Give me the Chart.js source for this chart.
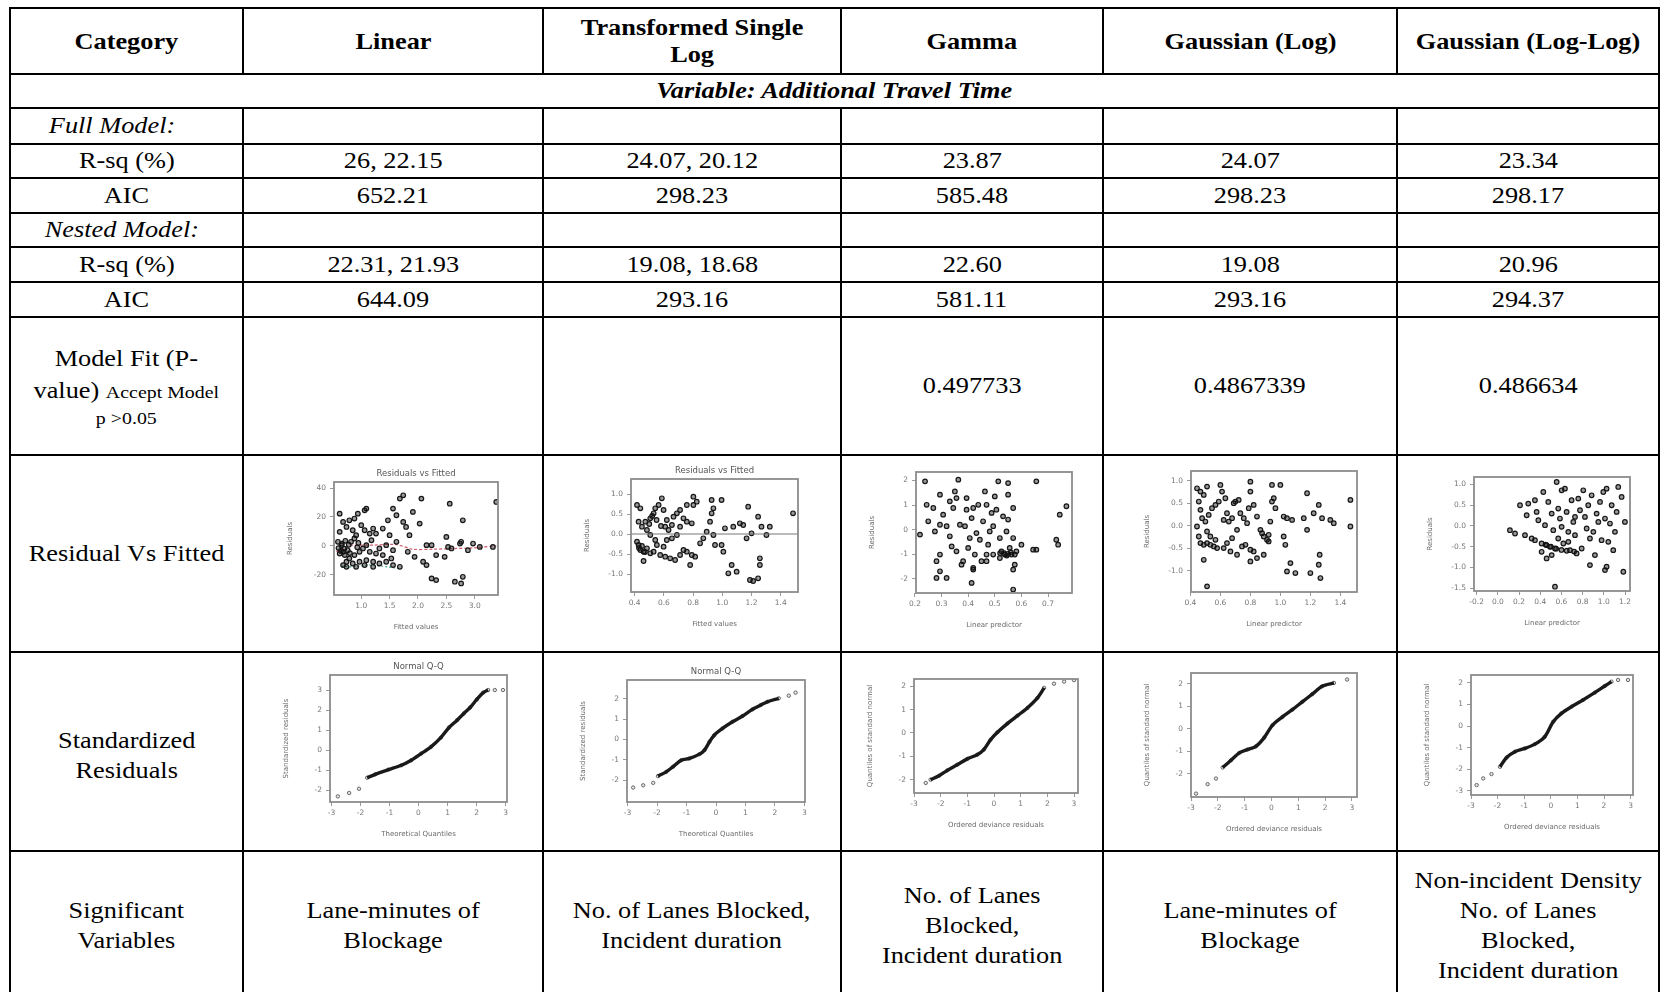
<!DOCTYPE html>
<html><head><meta charset="utf-8">
<script src="https://cdn.jsdelivr.net/npm/chart.js@4.4.1/dist/chart.umd.min.js"></script>
<style>
body{margin:0;background:#fff;width:1660px;height:992px;overflow:hidden;position:relative;font-family:"Liberation Serif","Times New Roman",serif;color:#000;}
.h{position:absolute;background:#000;height:2px;}
.v{position:absolute;background:#000;width:2px;}
.c{position:absolute;display:flex;align-items:center;justify-content:center;text-align:center;font-size:22.5px;line-height:30px;box-sizing:border-box;}
.c > span{display:inline-block;transform:scaleX(1.17);white-space:nowrap;}
.b{font-weight:bold;}
.i{font-style:italic;}
.sm{font-size:17px;}
canvas.m{position:absolute;filter:blur(0.6px);}
</style>
</head><body>
<script>
// ---------- table content ----------
const HEADERS = ["Category","Linear","Transformed Single\nLog","Gamma","Gaussian (Log)","Gaussian (Log-Log)"];
const VARIABLE_TITLE = "Variable: Additional Travel Time";
const FULL_RSQ = ["26, 22.15","24.07, 20.12","23.87","24.07","23.34"];
const FULL_AIC = ["652.21","298.23","585.48","298.23","298.17"];
const NESTED_RSQ = ["22.31, 21.93","19.08, 18.68","22.60","19.08","20.96"];
const NESTED_AIC = ["644.09","293.16","581.11","293.16","294.37"];
const MODEL_FIT_P = ["","","0.497733","0.4867339","0.486634"];
const SIG_VARS = ["Lane-minutes of\nBlockage","No. of Lanes Blocked,\nIncident duration","No. of Lanes\nBlocked,\nIncident duration","Lane-minutes of\nBlockage","Non-incident Density\nNo. of Lanes\nBlocked,\nIncident duration"];

// ---------- mini-plot data ----------
const R1_POINTS = [[0.62,22.3],[0.68,16.6],[0.74,13.1],[0.62,9.7],[0.59,2.8],[0.65,0.5],[0.68,-4.1],[0.62,-5.3],[0.71,-6.4],[0.76,-3.0],[0.82,2.8],[0.88,5.1],[0.91,7.4],[0.85,10.8],[0.79,17.7],[0.88,18.9],[0.94,22.3],[1.06,24.6],[1.09,25.8],[1.0,14.3],[1.06,10.8],[1.15,8.5],[1.21,12.0],[1.26,8.5],[1.18,3.9],[1.09,0.5],[1.03,-1.8],[0.97,-4.1],[0.88,-6.4],[0.79,-8.7],[0.74,-11.0],[0.85,-12.2],[0.97,-11.0],[1.09,-9.9],[1.21,-11.0],[1.32,-12.2],[1.44,-11.0],[1.56,-13.3],[1.68,-14.5],[1.53,-8.7],[1.38,-6.4],[1.26,-5.3],[1.15,-4.1],[1.32,-1.8],[1.44,0.5],[1.56,-3.0],[1.62,2.8],[1.5,7.4],[1.38,12.0],[1.47,17.7],[1.56,25.8],[1.62,21.2],[1.74,16.6],[1.79,13.1],[1.85,7.4],[1.91,23.5],[2.03,15.4],[2.06,32.7],[1.82,-4.1],[1.94,-7.6],[2.09,-11.0],[2.15,0.5],[2.24,0.5],[2.32,-6.4],[2.47,-7.6],[2.5,6.2],[2.53,-0.7],[2.59,-1.8],[2.74,1.6],[2.79,17.7],[2.76,2.8],[2.88,-3.0],[2.97,1.6],[3.09,-0.7],[3.32,-0.7],[2.56,29.2],[2.24,-22.5],[2.32,-23.7],[2.65,-24.8],[2.76,-26.0],[2.79,-21.4],[2.15,-13.3],[1.68,32.7],[1.74,35.0],[3.38,30.4],[0.68,-13.3],[0.74,-14.5],[0.91,-14.5],[1.06,-13.3],[1.21,-14.5],[0.6,-1.5],[0.64,-3.5],[0.7,-2.0],[0.66,1.5],[0.72,3.5],[0.78,0.8],[0.8,-5.0],[0.93,-1.0],[0.95,2.0]];
const R1_SMOOTH = [[0.56,-4.1],[0.79,0],[1.21,0.5],[1.62,0.9],[1.91,-2.3],[2.26,-2.3],[2.68,-1.8],[2.97,-1.4],[3.38,0]];
const R1_LOWER = [[0.65,-13.8],[0.79,-14.5],[0.97,-14.0],[1.15,-13.3],[1.32,-13.8],[1.5,-14.7],[1.65,-15.6]];

const R2_POINTS = [[0.416,0.725],[0.439,0.642],[0.427,0.308],[0.45,0.183],[0.416,-0.192],[0.427,-0.275],[0.439,-0.4],[0.461,-0.442],[0.484,-0.358],[0.507,-0.483],[0.53,-0.442],[0.552,-0.275],[0.541,-0.15],[0.507,-0.025],[0.484,0.1],[0.473,0.308],[0.507,0.392],[0.53,0.517],[0.541,0.642],[0.564,0.725],[0.586,0.892],[0.598,0.6],[0.62,0.35],[0.609,0.183],[0.632,0.1],[0.655,0.225],[0.666,0.433],[0.689,0.517],[0.711,0.6],[0.734,0.392],[0.757,0.308],[0.791,0.267],[0.802,0.725],[0.802,0.933],[0.757,0.725],[0.711,0.183],[0.689,-0.025],[0.655,-0.108],[0.62,-0.15],[0.598,-0.317],[0.575,-0.525],[0.609,-0.567],[0.643,-0.608],[0.677,-0.65],[0.711,-0.525],[0.734,-0.4],[0.757,-0.442],[0.791,-0.525],[0.814,-0.567],[0.848,-0.233],[0.87,-0.108],[0.893,0.058],[0.916,0.308],[0.927,0.517],[0.927,0.85],[0.995,0.85],[0.939,-0.025],[0.95,-0.275],[0.995,-0.275],[1.007,-0.442],[1.018,0.142],[1.075,0.183],[1.12,0.267],[1.143,0.225],[1.177,0.683],[1.166,-0.108],[1.2,0.017],[1.245,0.433],[1.268,0.183],[1.325,0.183],[1.302,-0.025],[1.484,0.517],[1.064,-0.775],[1.041,-0.983],[1.098,-0.942],[1.189,-1.15],[1.211,-1.175],[1.245,-1.108],[1.257,-0.775],[1.257,-0.608],[0.461,-0.675],[0.78,-0.775],[0.825,0.808],[0.939,0.642],[0.43,-0.35],[0.45,-0.3],[0.47,-0.45],[0.5,0.25],[0.52,0.45],[0.55,0.35],[0.58,0.2]];
const R2_ZERO = [[0.375,0],[1.518,0]];

const R3_POINTS = [[0.219,-0.2],[0.238,1.96],[0.244,1.01],[0.25,0.34],[0.269,0.88],[0.275,-0.07],[0.281,-1.28],[0.281,-1.96],[0.294,-1.69],[0.294,0.2],[0.294,1.42],[0.306,0.61],[0.319,0.14],[0.319,-1.96],[0.331,-0.27],[0.338,-0.68],[0.344,0.88],[0.35,1.55],[0.356,-0.88],[0.356,1.28],[0.369,0.2],[0.375,-1.42],[0.381,-1.28],[0.388,0.14],[0.394,1.28],[0.394,0.81],[0.4,-0.74],[0.406,-0.34],[0.413,0.47],[0.419,-1.55],[0.419,0.88],[0.425,-1.01],[0.431,-0.14],[0.438,1.01],[0.444,-0.41],[0.45,-1.28],[0.456,0.34],[0.463,1.55],[0.469,1.01],[0.469,-1.01],[0.475,-0.61],[0.481,-0.07],[0.488,0.68],[0.494,0.14],[0.494,-1.01],[0.5,1.35],[0.506,0.81],[0.513,1.96],[0.519,-0.34],[0.525,-0.88],[0.531,0.54],[0.538,-1.01],[0.544,-0.07],[0.55,0.41],[0.55,1.42],[0.556,-0.74],[0.563,-1.01],[0.569,0.88],[0.569,-0.34],[0.575,-1.01],[0.575,-1.42],[0.569,-1.62],[0.581,-0.88],[0.6,-0.61],[0.644,-0.81],[0.656,-0.81],[0.731,-0.41],[0.744,0.61],[0.738,-0.61],[0.769,0.95],[0.294,-1.01],[0.413,-2.16],[0.419,-1.62],[0.469,-1.28],[0.519,-1.15],[0.55,1.89],[0.656,1.96],[0.569,-2.43],[0.331,1.15],[0.363,2.03],[0.535,-0.95],[0.55,-0.98],[0.56,-0.92],[0.545,-1.05],[0.52,-0.95]];

const R4_POINTS = [[0.444,0.837],[0.467,0.763],[0.489,0.689],[0.511,0.874],[0.456,0.541],[0.467,0.356],[0.478,0.17],[0.444,-0.015],[0.456,-0.237],[0.467,-0.385],[0.489,-0.422],[0.511,-0.385],[0.533,-0.422],[0.556,-0.459],[0.578,-0.496],[0.567,-0.311],[0.533,-0.237],[0.511,-0.126],[0.5,0.096],[0.522,0.244],[0.544,0.393],[0.567,0.467],[0.589,0.541],[0.6,0.911],[0.611,0.763],[0.633,0.615],[0.644,0.281],[0.622,0.133],[0.656,0.096],[0.678,0.17],[0.689,0.504],[0.7,0.541],[0.722,0.578],[0.733,0.281],[0.756,0.17],[0.778,0.059],[0.789,0.393],[0.8,0.763],[0.8,0.985],[0.822,0.467],[0.844,0.207],[0.867,-0.089],[0.878,-0.163],[0.889,-0.237],[0.911,-0.311],[0.922,-0.2],[0.933,0.096],[0.944,0.541],[0.944,0.911],[1.0,0.911],[0.956,0.615],[0.967,0.393],[1.022,0.207],[1.044,0.17],[1.078,0.133],[1.022,-0.237],[1.033,-0.422],[0.711,-0.089],[0.678,-0.274],[0.644,-0.385],[0.622,-0.496],[0.667,-0.57],[0.711,-0.644],[0.744,-0.459],[0.767,-0.422],[0.8,-0.533],[0.822,-0.57],[0.8,-0.793],[0.844,-0.719],[0.889,-0.644],[1.156,0.17],[1.178,0.726],[1.222,0.281],[1.256,0.467],[1.278,0.17],[1.333,0.133],[1.356,0.059],[1.467,0.578],[1.467,-0.015],[1.067,-0.83],[1.044,-1.015],[1.1,-1.052],[1.2,-1.052],[1.256,-0.867],[1.262,-0.644],[1.267,-1.163],[1.178,-0.089],[0.489,-0.756],[0.511,-1.348],[0.922,-0.348]];

const R5_POINTS = [[0.114,-0.104],[0.162,-0.184],[0.209,0.497],[0.256,-0.224],[0.272,0.256],[0.287,0.537],[0.319,-0.304],[0.35,-0.345],[0.366,0.337],[0.382,0.136],[0.413,-0.425],[0.429,0.817],[0.445,0.016],[0.46,-0.465],[0.476,0.577],[0.492,-0.505],[0.508,0.296],[0.523,-0.104],[0.539,-0.545],[0.555,1.058],[0.57,0.417],[0.57,-0.304],[0.586,0.176],[0.602,-0.024],[0.618,-0.425],[0.633,0.897],[0.649,0.337],[0.665,-0.144],[0.681,-0.585],[0.696,0.617],[0.712,0.096],[0.728,-0.224],[0.743,-0.665],[0.759,0.657],[0.775,0.377],[0.791,-0.545],[0.806,0.857],[0.822,0.216],[0.838,-0.064],[0.853,0.497],[0.869,-0.304],[0.885,0.737],[0.901,-0.144],[0.916,-0.705],[0.932,0.296],[0.948,0.096],[0.964,0.577],[0.979,-0.345],[0.995,0.817],[1.011,0.176],[1.026,0.897],[1.042,-0.385],[1.058,0.056],[1.074,0.497],[1.089,-0.585],[1.105,-0.144],[1.121,0.337],[1.136,0.938],[1.168,0.697],[1.199,0.096],[1.184,-1.106],[1.026,-0.986],[1.011,-1.066],[0.869,-0.946],[0.508,-0.705],[0.46,-0.785],[0.539,-1.466],[0.413,-0.625],[0.665,-0.385],[0.728,0.216],[0.35,0.617],[0.602,0.857],[0.45,-0.45],[0.5,-0.5],[0.55,-0.55],[0.6,-0.58],[0.65,-0.6],[0.72,-0.62]];

const Q1_POINTS = [[-2.78,-2.3],[-2.39,-2.13],[-2.05,-1.92],[-1.77,-1.37],[-1.49,-1.2],[-1.04,-0.97],[-0.59,-0.75],[-0.25,-0.5],[0.09,-0.17],[0.43,0.17],[0.77,0.63],[1.05,1.13],[1.33,1.5],[1.56,1.83],[1.78,2.13],[2.01,2.53],[2.23,2.87],[2.4,3.0],[2.63,3.0],[2.91,3.0]];
const Q2_POINTS = [[-2.81,-2.36],[-2.47,-2.25],[-2.13,-2.13],[-1.97,-1.8],[-1.69,-1.59],[-1.46,-1.34],[-1.18,-1.02],[-0.9,-0.93],[-0.56,-0.72],[-0.39,-0.52],[-0.22,-0.11],[-0.06,0.21],[0.22,0.54],[0.56,0.87],[0.9,1.15],[1.24,1.48],[1.52,1.69],[1.74,1.85],[2.13,2.02],[2.47,2.15],[2.7,2.3]];
const Q3_POINTS = [[-2.56,-2.14],[-2.38,-2.0],[-2.06,-1.83],[-1.75,-1.6],[-1.38,-1.36],[-1.0,-1.11],[-0.63,-0.93],[-0.38,-0.71],[-0.13,-0.29],[0.13,0.03],[0.5,0.4],[0.88,0.74],[1.25,1.07],[1.63,1.5],[1.88,1.93],[2.25,2.11],[2.63,2.2],[3.0,2.26]];
const Q4_POINTS = [[-2.81,-2.89],[-2.38,-2.47],[-2.07,-2.22],[-1.82,-1.73],[-1.51,-1.41],[-1.2,-1.08],[-0.89,-0.93],[-0.58,-0.79],[-0.27,-0.4],[0.04,0.15],[0.41,0.52],[0.78,0.84],[1.15,1.19],[1.52,1.53],[1.89,1.88],[2.33,2.03],[2.82,2.18]];
const Q5_POINTS = [[-2.79,-2.74],[-2.54,-2.43],[-2.23,-2.23],[-1.91,-1.89],[-1.66,-1.46],[-1.35,-1.19],[-0.98,-1.04],[-0.6,-0.84],[-0.23,-0.5],[0.09,0.2],[0.4,0.59],[0.78,0.9],[1.21,1.21],[1.65,1.55],[2.03,1.86],[2.28,2.06],[2.53,2.14],[2.9,2.14]];

// tick values
const R1_XT=[1,1.5,2,2.5,3], R1_YT=[-20,0,20,40];
const R2_XT=[0.4,0.6,0.8,1.0,1.2,1.4], R2_YT=[-1,-0.5,0,0.5,1];
const R3_XT=[0.2,0.3,0.4,0.5,0.6,0.7], R3_YT=[-2,-1,0,1,2];
const R4_XT=[0.4,0.6,0.8,1.0,1.2,1.4], R4_YT=[-1,-0.5,0,0.5,1];
const R5_XT=[-0.2,0,0.2,0.4,0.6,0.8,1.0,1.2], R5_YT=[-1.5,-1,-0.5,0,0.5,1];
const Q_XT=[-3,-2,-1,0,1,2,3];
const Q1_YT=[-2,-1,0,1,2,3], Q2_YT=[-2,-1,0,1,2], Q3_YT=[-2,-1,0,1,2], Q4_YT=[-2,-1,0,1,2], Q5_YT=[-3,-2,-1,0,1,2];

// ---------- layout ----------
const X=[9,242,542,840,1102,1396,1658];
const Y=[7,73,107,143,177,212,246,281,316,454,651,850,992];

function line(cls,l,t,len){const d=document.createElement('div');d.className=cls;d.style.left=l+'px';d.style.top=t+'px';if(cls==='h')d.style.width=len+'px';else d.style.height=len+'px';document.body.appendChild(d);}
function cell(c0,c1,r,html,cls,style){const d=document.createElement('div');d.className='c '+(cls||'');d.style.left=(X[c0]+2)+'px';d.style.width=(X[c1]-X[c0]-2)+'px';d.style.top=(Y[r]+2)+'px';d.style.height=(Y[r+1]-Y[r]-2)+'px';if(style)Object.assign(d.style,style);d.innerHTML='<span>'+html+'</span>';document.body.appendChild(d);return d;}
const br=s=>s.split('\n').join('<br>');

Y.forEach(y=>line('h',X[0],y,X[6]-X[0]+2));
line('v',X[0],Y[0],Y[12]-Y[0]);line('v',X[6],Y[0],Y[12]-Y[0]);
for(let i=1;i<6;i++){line('v',X[i],Y[0],Y[1]-Y[0]);line('v',X[i],Y[2],Y[12]-Y[2]);}

HEADERS.forEach((h,i)=>cell(i,i+1,0,br(h),'b',{lineHeight:'27px'}));
cell(0,6,1,VARIABLE_TITLE,'b i');
cell(0,1,2,'Full Model:','i',{paddingRight:'28px'});
cell(0,1,3,'R-sq (%)');FULL_RSQ.forEach((v,i)=>cell(i+1,i+2,3,v));
cell(0,1,4,'AIC');FULL_AIC.forEach((v,i)=>cell(i+1,i+2,4,v));
cell(0,1,5,'Nested Model:','i',{paddingRight:'10px'});
cell(0,1,6,'R-sq (%)');NESTED_RSQ.forEach((v,i)=>cell(i+1,i+2,6,v));
cell(0,1,7,'AIC');NESTED_AIC.forEach((v,i)=>cell(i+1,i+2,7,v));
cell(0,1,8,'<div style="line-height:34px">Model Fit (P-</div><div style="line-height:30px">value) <span class="sm">Accept Model</span></div><div class="sm" style="line-height:22px">p &gt;0.05</div>');
MODEL_FIT_P.forEach((v,i)=>cell(i+1,i+2,8,v));
cell(0,1,9,'Residual Vs Fitted');
cell(0,1,10,'Standardized<br>Residuals',null,{paddingTop:'8px'});
cell(0,1,11,'Significant<br>Variables',null,{paddingTop:'8px'});
SIG_VARS.forEach((v,i)=>cell(i+1,i+2,11,br(v),null,{paddingTop:'8px'}));

// ---------- mini charts ----------
Chart.defaults.animation=false;
const toXY=a=>a.map(([x,y])=>({x,y}));
const PT_STYLE={type:'scatter',pointRadius:2.3,pointBorderWidth:1.2,pointBorderColor:'#151515',pointBackgroundColor:'rgba(0,0,0,0.4)',showLine:false};

function mini(spec){
  const [l,t,r,b]=spec.frame;
  const PL=50,PT=20,PR=14,PB=42;
  const cv=document.createElement('canvas');cv.className='m';
  const w=Math.round(r-l)+PL+PR,h=Math.round(b-t)+PT+PB;
  cv.width=w;cv.height=h;cv.style.width=w+'px';cv.style.height=h+'px';
  cv.style.left=(Math.round(l)-PL)+'px';cv.style.top=(Math.round(t)-PT)+'px';
  document.body.appendChild(cv);
  const f={family:'DejaVu Sans',size:7.5};
  const axis=(rng,ticks,dec,title,isX)=>({type:'linear',min:rng[0],max:rng[1],
    afterBuildTicks:s=>{s.ticks=ticks.map(v=>({value:v}));},
    afterFit:s=>{if(isX)s.height=PB;else s.width=PL;},
    grid:{display:true,drawOnChartArea:false,drawTicks:true,tickLength:4,color:'#9a9a9a',lineWidth:1},
    border:{display:false},
    ticks:{font:f,color:'#777',padding:isX?3:4,maxRotation:0,autoSkip:false,callback:v=>Number(v).toFixed(dec)},
    title:{display:true,text:title,font:{family:'DejaVu Sans',size:7},color:'#6a6a6a',padding:isX?{top:3,bottom:6}:{top:2,bottom:2}}});
  new Chart(cv,{type:'scatter',data:{datasets:spec.datasets},
    options:{responsive:false,animation:false,devicePixelRatio:1,
      layout:{padding:{top:PT,right:PR,left:0,bottom:0}},
      plugins:{legend:{display:false},tooltip:{enabled:false}},
      scales:{x:axis(spec.x,spec.xt,spec.xd,spec.xTitle,true),y:axis(spec.y,spec.yt,spec.yd,spec.yTitle,false)}},
    plugins:[{id:'frame',afterDraw(c){const a=c.chartArea,x=c.ctx;x.save();x.strokeStyle='#8c8c8c';x.lineWidth=1.8;x.strokeRect(a.left,a.top,a.right-a.left,a.bottom-a.top);
      if(spec.title){x.fillStyle='#555';x.font='8.5px "DejaVu Sans"';x.textAlign='center';x.textBaseline='middle';x.fillText(spec.title,(a.left+a.right)/2,a.top-8);}x.restore();}}]
  });
}
const scatterSet=pts=>Object.assign({data:toXY(pts)},PT_STYLE);
function qqSets(pts,band){return [
  {type:'scatter',data:toXY(pts.slice(band[0],band[1]+1)),showLine:true,borderColor:'#1a1a1a',borderWidth:3.4,pointRadius:0,tension:0.3},
  Object.assign({data:toXY(pts)},PT_STYLE,{pointRadius:1.7,pointBorderWidth:1,pointBorderColor:'#666',pointBackgroundColor:'rgba(0,0,0,0.1)'})];}

mini({frame:[334,482,498,595],x:[0.52,3.41],xt:R1_XT,xd:1,y:[-34,44.2],yt:R1_YT,yd:0,title:'Residuals vs Fitted',xTitle:'Fitted values',yTitle:'Residuals',
  datasets:[scatterSet(R1_POINTS),
    {type:'scatter',data:toXY(R1_SMOOTH),showLine:true,borderColor:'#d05a6a',borderWidth:1.2,borderDash:[3,2],pointRadius:0,tension:0.3},
    {type:'scatter',data:toXY(R1_LOWER),showLine:true,borderColor:'#3aa58a',borderWidth:1.2,borderDash:[2,2],pointRadius:0,tension:0.3}]});
mini({frame:[631,479,798,592],x:[0.375,1.518],xt:R2_XT,xd:1,y:[-1.45,1.375],yt:R2_YT,yd:1,title:'Residuals vs Fitted',xTitle:'Fitted values',yTitle:'Residuals',
  datasets:[{type:'scatter',data:toXY(R2_ZERO),showLine:true,borderColor:'#777',borderWidth:1,pointRadius:0},scatterSet(R2_POINTS)]});
mini({frame:[916,472,1072,593],x:[0.204,0.79],xt:R3_XT,xd:1,y:[-2.57,2.34],yt:R3_YT,yd:0,xTitle:'Linear predictor',yTitle:'Residuals',datasets:[scatterSet(R3_POINTS)]});
mini({frame:[1191,471,1357,592],x:[0.404,1.511],xt:R4_XT,xd:1,y:[-1.474,1.222],yt:R4_YT,yd:1,xTitle:'Linear predictor',yTitle:'Residuals',datasets:[scatterSet(R4_POINTS)]});
mini({frame:[1474,477,1630,591],x:[-0.225,1.247],xt:R5_XT,xd:1,y:[-1.57,1.178],yt:R5_YT,yd:1,xTitle:'Linear predictor',yTitle:'Residuals',datasets:[scatterSet(R5_POINTS)]});

mini({frame:[330,675,507,802],x:[-3.05,3.05],xt:Q_XT,xd:0,y:[-2.58,3.75],yt:Q1_YT,yd:0,title:'Normal Q-Q',xTitle:'Theoretical Quantiles',yTitle:'Standardized residuals',datasets:qqSets(Q1_POINTS,[3,17])});
mini({frame:[627,680,805,802],x:[-3.02,3.02],xt:Q_XT,xd:0,y:[-3.07,2.92],yt:Q2_YT,yd:0,title:'Normal Q-Q',xTitle:'Theoretical Quantiles',yTitle:'Standardized residuals',datasets:qqSets(Q2_POINTS,[3,18])});
mini({frame:[914,679,1078,793],x:[-3.0,3.15],xt:Q_XT,xd:0,y:[-2.57,2.31],yt:Q3_YT,yd:0,xTitle:'Ordered deviance residuals',yTitle:'Quantiles of standard normal',datasets:qqSets(Q3_POINTS,[1,14])});
mini({frame:[1191,673,1357,797],x:[-3.0,3.19],xt:Q_XT,xd:0,y:[-3.04,2.47],yt:Q4_YT,yd:0,xTitle:'Ordered deviance residuals',yTitle:'Quantiles of standard normal',datasets:qqSets(Q4_POINTS,[3,15])});
mini({frame:[1471,675,1633,795],x:[-3.0,3.09],xt:Q_XT,xd:0,y:[-3.2,2.37],yt:Q5_YT,yd:0,xTitle:'Ordered deviance residuals',yTitle:'Quantiles of standard normal',datasets:qqSets(Q5_POINTS,[3,15])});
</script>
</body></html>
